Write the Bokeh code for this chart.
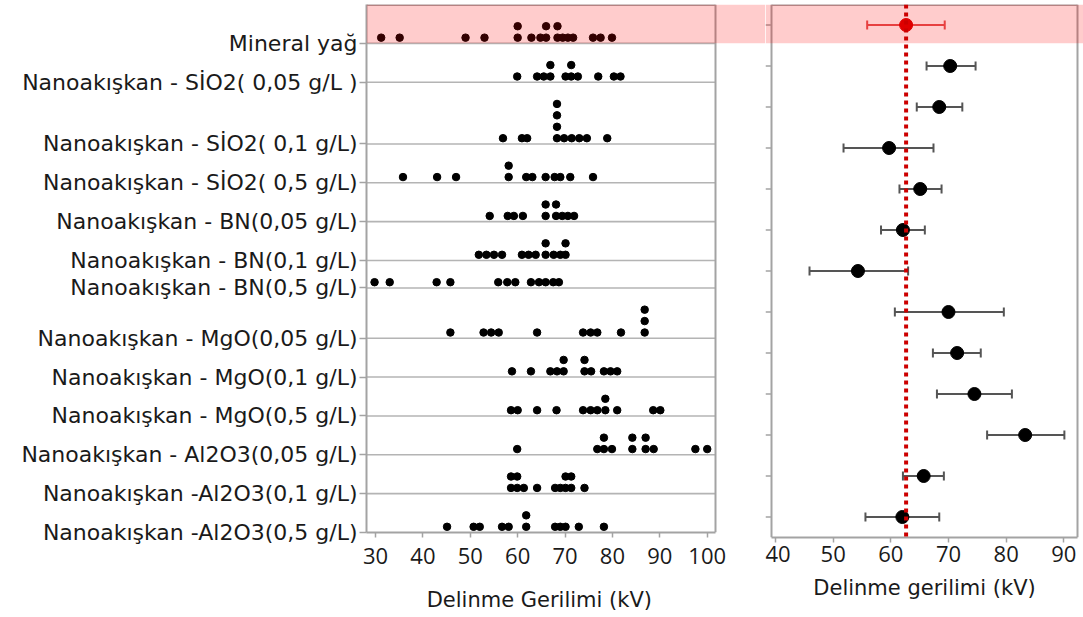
import numpy as np
from bokeh.plotting import figure
from bokeh.models import (Range1d, FixedTicker, BoxAnnotation, Span, Whisker,
                          ColumnDataSource, TeeHead)
from bokeh.layouts import row
from bokeh.embed import file_html
from bokeh.resources import INLINE

# ---------------- data ----------------
categories = [
    "Mineral yağ",
    "Nanoakışkan - SİO2( 0,05 g/L )",
    "Nanoakışkan - SİO2( 0,1 g/L)",
    "Nanoakışkan - SİO2( 0,5 g/L)",
    "Nanoakışkan - BN(0,05 g/L)",
    "Nanoakışkan - BN(0,1 g/L)",
    "Nanoakışkan - BN(0,5 g/L)",
    "Nanoakışkan - MgO(0,05 g/L)",
    "Nanoakışkan - MgO(0,1 g/L)",
    "Nanoakışkan - MgO(0,5 g/L)",
    "Nanoakışkan - Al2O3(0,05 g/L)",
    "Nanoakışkan -Al2O3(0,1 g/L)",
    "Nanoakışkan -Al2O3(0,5 g/L)",
]

mineral_yag = [31.2, 35.1, 49.0, 53.0, 60.0, 60.0, 62.9, 64.8, 66.0, 66.0,
               68.4, 68.4, 69.5, 70.6, 71.7, 75.9, 77.5, 79.9]
sio2_005 = [59.9, 64.1, 65.5, 66.9, 66.9, 70.1, 71.3, 71.3, 72.7, 77.0, 80.3, 81.7]
sio2_01 = [56.9, 60.9, 62.0, 68.3, 68.3, 68.3, 68.3, 69.8, 71.4, 73.0, 74.6, 78.9]
sio2_05 = [35.8, 43.0, 47.0, 58.1, 58.1, 61.8, 63.1, 65.9, 67.8, 69.0, 71.1, 75.9]
bn_005 = [54.1, 57.9, 59.2, 61.1, 65.9, 65.9, 68.1, 68.1, 69.4, 70.6, 71.9]
bn_01 = [51.8, 53.4, 55.0, 56.7, 60.9, 62.3, 63.8, 65.9, 65.9, 67.6, 69.0, 70.1, 70.1]
bn_05 = [29.8, 33.0, 42.9, 45.8, 55.9, 57.8, 59.5, 62.8, 64.5, 65.9, 67.5, 68.7]
mgo_005 = [45.8, 52.8, 54.4, 56.0, 64.1, 73.8, 75.4, 76.8, 81.8, 86.8, 86.8, 86.8]
mgo_01 = [58.8, 62.8, 66.9, 68.3, 69.7, 69.7, 74.1, 74.1, 75.5, 78.2, 79.6, 81.0]
mgo_05 = [58.6, 60.0, 64.1, 68.2, 73.8, 75.4, 76.8, 78.5, 78.5, 81.0, 88.6, 90.1]
al_005 = [59.9, 76.8, 78.2, 78.2, 79.9, 84.2, 84.2, 87.0, 87.0, 88.7, 97.5, 100.0]
al_01 = [58.6, 58.6, 59.9, 59.9, 61.3, 64.1, 67.9, 69.0, 70.1, 70.1, 71.3, 71.3, 74.1]
al_05 = [45.1, 50.7, 52.0, 56.7, 58.1, 61.8, 61.8, 67.9, 69.0, 70.1, 72.9, 78.2]

groups = [mineral_yag, sio2_005, sio2_01, sio2_05, bn_005, bn_01, bn_05,
          mgo_005, mgo_01, mgo_05, al_005, al_01, al_05]

# interval plot (mean and confidence interval)
means = [62.65, 70.3, 68.4, 59.7, 65.1, 62.1, 54.3, 70.0, 71.5, 74.5, 83.3, 65.7, 62.0]
ci_low = [55.9, 66.2, 64.5, 51.8, 61.5, 58.3, 45.9, 60.7, 67.3, 68.0, 76.7, 62.1, 55.6]
ci_high = [69.35, 74.7, 72.4, 67.4, 68.8, 65.9, 63.0, 79.6, 75.6, 81.0, 90.1, 69.2, 68.4]

left_ticks = [30, 40, 50, 60, 70, 80, 90, 100]
right_ticks = [40, 50, 60, 70, 80, 90]

FONT = "Open Sans"
LFONT = "DejaVu Sans"
GRAY = "#a3a3a3"
TXT = "#1a1a1a"

# ---------------- left panel: dot plot ----------------
# y units: 10 units = one stacked dot
xs, ys = [], []
bottoms = []
cur = 0
for vals in groups:
    seen = {}
    lev = []
    for v in vals:
        k = seen.get(v, 0)
        lev.append(k)
        seen[v] = k + 1
    h = 10 * (max(lev) + 1) + 14
    cur += h
    bottoms.append(cur)
    for v, k in zip(vals, lev):
        xs.append(v)
        ys.append(cur - 5 - 10 * k)
total = bottoms[-1]

L_BORDER = 366
L_FRAME_W, L_FRAME_H = 399, 528
PX_PER_KV_L = 4.739
lx0 = 30 - 9 / PX_PER_KV_L
lx1 = lx0 + L_FRAME_W / PX_PER_KV_L
l_panel_right = 30 + 340 / PX_PER_KV_L

pl = figure(width=L_BORDER + L_FRAME_W, height=4 + L_FRAME_H + 85,
            frame_width=L_FRAME_W, frame_height=L_FRAME_H,
            x_range=Range1d(lx0, lx1), y_range=Range1d(total, 0),
            output_backend="svg", toolbar_location=None, title=None,
            min_border_left=L_BORDER, min_border_right=0, min_border_top=4,
            min_border_bottom=85)
pl.outline_line_color = None
pl.xgrid.visible = False
pl.ygrid.visible = False

pl.yaxis.ticker = FixedTicker(ticks=bottoms)
pl.yaxis.major_label_overrides = {b: c for b, c in zip(bottoms, categories)}
pl.yaxis.major_label_text_font = LFONT
pl.yaxis.major_label_text_font_size = "22px"
pl.yaxis.major_label_text_color = TXT
pl.yaxis.major_tick_out = 7
pl.yaxis.major_tick_in = 0
pl.yaxis.minor_tick_line_color = None
pl.yaxis.major_tick_line_color = GRAY
pl.yaxis.major_tick_line_width = 1.5
pl.yaxis.axis_line_color = GRAY
pl.yaxis.axis_line_width = 2
pl.yaxis.major_label_standoff = 2

pl.xaxis.ticker = FixedTicker(ticks=left_ticks)
pl.xaxis.bounds = (lx0, l_panel_right)
pl.xaxis.axis_line_color = GRAY
pl.xaxis.axis_line_width = 2
pl.xaxis.major_tick_line_color = GRAY
pl.xaxis.major_tick_line_width = 1.5
pl.xaxis.major_tick_out = 5
pl.xaxis.major_tick_in = 0
pl.xaxis.minor_tick_line_color = None
pl.xaxis.major_label_text_font = FONT
pl.xaxis.major_label_text_font_size = "22px"
pl.xaxis.major_label_text_color = TXT
pl.xaxis.major_label_standoff = 10
# the frame runs on under the gap; trailing no-break spaces keep the title
# centred under the dot-plot panel itself
pl.xaxis.axis_label = "Delinme Gerilimi (kV)" + "\u00a0" * 8
pl.xaxis.axis_label_text_font = LFONT
pl.xaxis.axis_label_text_font_size = "21px"
pl.xaxis.axis_label_text_font_style = "normal"
pl.xaxis.axis_label_text_color = TXT
pl.xaxis.axis_label_standoff = 21

# separators between groups
pl.segment(x0=[lx0] * (len(bottoms) - 1), x1=[l_panel_right] * (len(bottoms) - 1),
           y0=bottoms[:-1], y1=bottoms[:-1], line_color="#b4b4b4", line_width=1.6)
# panel top + right border
pl.segment(x0=[lx0], x1=[l_panel_right], y0=[0], y1=[0], line_color=GRAY, line_width=3)
pl.add_layout(Span(location=l_panel_right, dimension="height", line_color=GRAY, line_width=2))

pl.scatter(x=xs, y=ys, size=7.5, fill_color="black", line_color="black")

pl.add_layout(BoxAnnotation(top=0, bottom=bottoms[0], fill_color="red", fill_alpha=0.2,
                            line_color=None))

# ---------------- right panel: interval plot ----------------
R_FRAME_W, R_FRAME_H = 318, 533
PX_PER_KV_R = 5.766
rx0 = 40 - 10 / PX_PER_KV_R
rx1 = rx0 + R_FRAME_W / PX_PER_KV_R
r_panel_left = 40 - 4 / PX_PER_KV_R
r_panel_right = 40 + 302 / PX_PER_KV_R
n = len(categories)
rows_y = list(range(1, n + 1))

pr = figure(width=R_FRAME_W, height=4 + R_FRAME_H + 75,
            frame_width=R_FRAME_W, frame_height=R_FRAME_H,
            x_range=Range1d(rx0, rx1), y_range=Range1d(n + 0.5, 0.5),
            output_backend="svg", toolbar_location=None, title=None,
            min_border_left=0, min_border_right=0, min_border_top=4,
            min_border_bottom=75)
pr.outline_line_color = None
pr.xgrid.visible = False
pr.ygrid.visible = False
pr.yaxis.visible = False

pr.xaxis.ticker = FixedTicker(ticks=right_ticks)
pr.xaxis.bounds = (r_panel_left, r_panel_right)
pr.xaxis.axis_line_color = GRAY
pr.xaxis.axis_line_width = 2
pr.xaxis.major_tick_line_color = GRAY
pr.xaxis.major_tick_line_width = 1.5
pr.xaxis.major_tick_out = 5
pr.xaxis.major_tick_in = 0
pr.xaxis.minor_tick_line_color = None
pr.xaxis.major_label_text_font = FONT
pr.xaxis.major_label_text_font_size = "22px"
pr.xaxis.major_label_text_color = TXT
pr.xaxis.major_label_standoff = 3
pr.xaxis.axis_label = "Delinme gerilimi (kV)"
pr.xaxis.axis_label_text_font = LFONT
pr.xaxis.axis_label_text_font_size = "21px"
pr.xaxis.axis_label_text_font_style = "normal"
pr.xaxis.axis_label_text_color = TXT
pr.xaxis.axis_label_standoff = 11

# panel borders and category ticks
pr.add_layout(Span(location=r_panel_left, dimension="height", line_color=GRAY, line_width=2))
pr.add_layout(Span(location=r_panel_right, dimension="height", line_color=GRAY, line_width=2))
pr.segment(x0=[r_panel_left], x1=[r_panel_right], y0=[0.5], y1=[0.5], line_color=GRAY, line_width=3)
pr.segment(x0=[rx0] * n, x1=[r_panel_left] * n, y0=rows_y, y1=rows_y,
           line_color=GRAY, line_width=1.5)

src_ref = ColumnDataSource(dict(y=rows_y[:1], m=means[:1], lo=ci_low[:1], hi=ci_high[:1]))
src_oth = ColumnDataSource(dict(y=rows_y[1:], m=means[1:], lo=ci_low[1:], hi=ci_high[1:]))

pr.add_layout(Whisker(base="y", lower="lo", upper="hi", dimension="width", source=src_oth,
                      line_color="#555555", line_width=2,
                      upper_head=TeeHead(size=9, line_color="#555555", line_width=2),
                      lower_head=TeeHead(size=9, line_color="#555555", line_width=2)))
pr.add_layout(Whisker(base="y", lower="lo", upper="hi", dimension="width", source=src_ref,
                      line_color="#e25050", line_width=2,
                      upper_head=TeeHead(size=9, line_color="#e25050", line_width=2),
                      lower_head=TeeHead(size=9, line_color="#e25050", line_width=2)))

pr.scatter(x="m", y="y", source=src_oth, size=13, fill_color="black", line_color="black")
pr.scatter(x="m", y="y", source=src_ref, size=13, fill_color="#d80000", line_color="#d80000")

band_bottom = 0.5 + (bottoms[0] / total * L_FRAME_H) / (R_FRAME_H / n)
pr.add_layout(BoxAnnotation(top=0.5, bottom=band_bottom, fill_color="red", fill_alpha=0.2,
                            line_color=None))
pr.add_layout(Span(location=means[0], dimension="height", line_color="#cc0000",
                   line_width=4, line_dash="4 4"))

layout = row(pl, pr)
open("out.html", "w").write(file_html(layout, INLINE))
